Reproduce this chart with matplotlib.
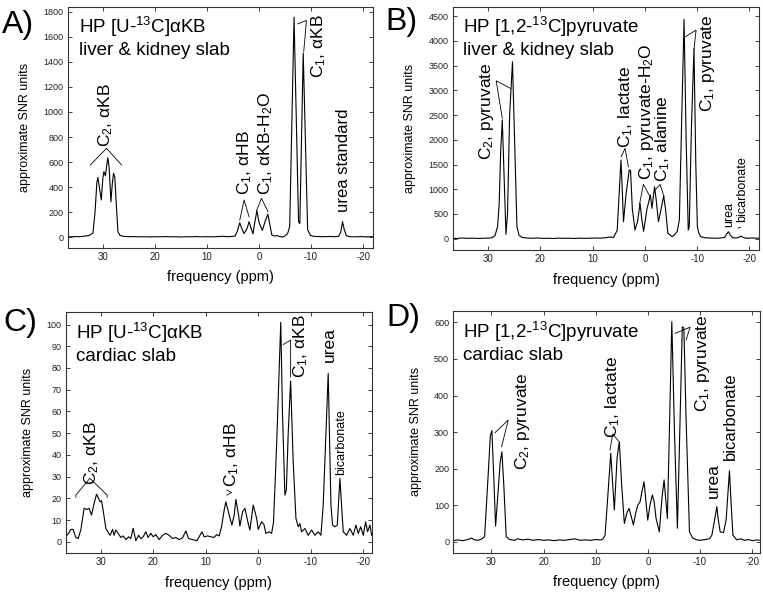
import matplotlib
matplotlib.use("Agg")
import matplotlib.pyplot as plt

plt.rcParams['font.family'] = ['Liberation Sans', 'DejaVu Sans']
plt.rcParams['axes.unicode_minus'] = False
plt.rcParams['mathtext.fontset'] = 'custom'
plt.rcParams['mathtext.rm'] = 'Liberation Sans'
plt.rcParams['mathtext.it'] = 'Liberation Sans:italic'
plt.rcParams['mathtext.default'] = 'regular'

# --- spectra (ppm, approximate SNR) ---
# A) HP [U-13C]aKB, liver & kidney slab
a_ppm = [36.7, 36.0, 35.2, 34.5, 33.8, 33.0, 32.5, 31.9, 31.5, 31.15, 30.95, 30.6, 30.3, 30.0,
         29.8, 29.5, 29.3, 29.05, 28.8, 28.45, 28.2, 27.95, 27.7, 27.4, 27.1, 26.7, 26.0, 25.0,
         24.0, 23.0, 22.0, 21.0, 20.0, 19.0, 18.0, 17.0, 16.0, 15.0, 14.0, 13.0, 12.0, 11.0,
         10.0, 9.0, 8.0, 7.0, 6.0, 5.3, 4.6, 4.2, 3.7, 3.3, 2.85, 2.3, 1.9, 1.5, 1.15, 0.8, 0.4,
         0.0, -0.65, -1.2, -1.7, -2.1, -2.45, -3.0, -3.5, -4.0, -4.6, -5.0, -5.5, -5.9, -6.74,
         -7.6, -7.85, -8.5, -9.35, -9.9, -10.5, -11.5, -12.5, -13.5, -14.5, -15.3, -15.7, -16.05,
         -16.4, -16.8, -17.5, -18.5, -19.5, -20.5, -21.9]
a_snr = [5, 4, 6, 5, 8, 12, 18, 35, 200, 440, 478, 380, 298, 470,
         524, 490, 560, 635, 560, 284, 420, 511, 480, 250, 45, 15, 8, 5,
         6, 4, 5, 3, 5, 4, 6, 4, 5, 3, 5, 4, 6, 4,
         5, 4, 6, 8, 5, 7, 10, 45, 116, 70, 30, 70, 125, 70, 28, 120, 212,
         120, 55, 130, 185, 100, 20, 10, 14, 6, 2, 12, 30, 85, 1756,
         125, 110, 1470, 60, 15, 8, 6, 5, 7, 5, 8, 40, 125,
         60, 12, 5, 4, 6, 4, 5]

# B) HP [1,2-13C]pyruvate, liver & kidney slab
b_ppm = [36.8, 36.0, 35.0, 34.0, 33.0, 32.0, 31.0, 30.0, 29.3, 28.7, 28.2, 27.9, 27.6, 27.3,
         27.0, 26.6, 26.3, 25.9, 25.35, 25.0, 24.5, 24.1, 23.5, 22.5, 21.5, 20.5, 19.5, 18.5,
         17.5, 16.5, 15.5, 14.5, 13.5, 12.5, 11.5, 10.5, 9.5, 8.5, 7.5, 6.8, 6.0, 5.3, 4.58,
         4.3, 4.1, 3.6, 3.0, 2.75, 2.4, 1.9, 1.4, 0.92, 0.6, 0.25, -0.4, -1.06, -1.35, -1.85,
         -2.15, -2.6, -3.0, -3.6, -3.95, -4.4, -4.8, -5.2, -5.6, -6.2, -6.6, -7.0, -7.5, -7.9,
         -8.3, -8.5, -8.9, -9.4, -9.75, -10.05, -10.3, -10.7, -11.5, -12.5, -13.5, -14.5,
         -15.3, -15.7, -16.0, -16.3, -16.8, -17.5, -18.0, -18.4, -18.8, -19.5, -20.5, -21.9]
b_snr = [10, 5, 15, 8, 12, 6, 10, 12, 20, 60, 250, 700, 1800, 2400,
         1400, 90, 500, 2500, 3575, 2200, 250, 70, 25, 15, 10, 15, 8, 10,
         5, 12, 8, 10, 6, 12, 8, 10, 15, 12, 20, 35, 25, 170, 1590,
         900, 343, 900, 1390, 1380, 600, 176, 350, 715, 400, 150, 600, 883, 614, 1050,
         800, 343, 550, 862, 600, 109, 80, 40, 70, 150, 380, 2200, 4432, 2000,
         176, 250, 2200, 3846, 1500, 250, 120, 40, 20, 15, 10, 15,
         30, 100, 141, 80, 20, 15, 30, 55, 25, 10, 15, 10]

# C) HP [U-13C]aKB, cardiac slab
c_ppm = [36.68, 36.16, 35.72, 35.28, 34.77, 34.33, 33.82, 33.19, 32.67, 32.23, 31.78, 31.28,
         30.82, 30.52, 30.14, 29.87, 29.57, 29.05, 28.54, 28.23, 27.77, 27.47, 27.14, 26.71,
         26.19, 25.75, 25.24, 24.72, 24.29, 23.85, 23.33, 22.82, 22.38, 21.94, 21.43, 20.99,
         20.47, 20.03, 19.52, 18.89, 18.24, 17.61, 16.98, 16.34, 15.71, 15.08, 14.43, 13.8,
         13.29, 12.52, 11.7, 11.27, 10.75, 10.31, 9.66, 9.04, 8.41, 7.95, 7.45, 7.0, 6.5,
         6.18, 5.55, 5.03, 4.59, 4.27, 3.76, 3.51, 3.0, 2.55, 1.93, 1.6, 0.97, 0.32, 0.02,
         -0.63, -1.07, -1.45, -2.08, -2.54, -2.9, -3.5, -4.28, -4.6, -5.07, -5.35, -5.7,
         -6.16, -6.65, -7.17, -7.6, -7.93, -8.25, -8.88, -9.51, -10.16, -10.79, -11.42,
         -11.93, -12.37, -13.32, -13.84, -14.16, -14.6, -15.05, -15.55, -15.94, -16.19,
         -16.83, -17.46, -18.09, -18.6, -19.04, -19.5, -20.0, -20.45, -20.83, -21.27, -21.6]
c_snr = [2.3, 3.9, 5.7, 5.7, 2.0, 1.5, 5.4, 15.4, 14.9, 15.4, 12.3, 17.7,
         21.9, 20.4, 18.4, 18.9, 14.6, 6.2, 4.1, 3.0, 5.7, 3.0, 5.4, 3.9,
         2.0, 2.7, 1.0, 2.3, 1.5, 6.2, 0.5, 3.0, 1.5, 2.3, 4.6, 2.0,
         3.9, 2.3, 3.3, 1.0, 3.0, 3.9, 3.0, 1.5, 2.0, 1.0, 1.8, 5.0,
         1.5, 1.0, 0.5, 2.3, 4.6, 2.3, 2.7, 2.3, 2.0, 3.3, 2.7, 7.0, 14.6,
         18.4, 12.3, 7.7, 12.3, 19.5, 12.3, 7.2, 13.8, 15.4, 8.5, 5.4, 16.9, 10.8, 5.7,
         9.2, 8.0, 3.9, 4.6, 3.9, 9.0, 45.0, 101.0, 60.0, 21.5, 24.0, 50.0,
         74.0, 36.8, 10.8, 6.9, 8.4, 4.6, 6.1, 3.0, 5.4, 3.0, 4.6,
         3.0, 16.9, 77.5, 16.9, 7.7, 6.9, 7.7, 29.2, 13.8, 4.6,
         3.0, 6.1, 3.0, 7.7, 3.8, 6.9, 3.0, 9.2, 4.6, 7.7, 3.0]

# D) HP [1,2-13C]pyruvate, cardiac slab
d_ppm = [37.3, 36.5, 35.5, 34.5, 33.8, 33.2, 32.5, 31.8, 31.3, 30.67, 30.2, 29.9, 29.55, 29.19,
         28.8, 28.3, 27.98, 27.6, 27.16, 26.5, 25.5, 25.0, 24.0, 23.0, 22.0, 21.0, 20.0, 19.0,
         18.0, 17.0, 16.0, 15.0, 14.0, 13.0, 12.0, 11.0, 10.0, 9.0, 8.6, 8.21, 7.7, 7.12, 6.43,
         5.9, 5.47, 5.0, 4.51, 4.0, 3.61, 3.2, 2.78, 2.3, 1.94, 1.5, 1.1, 0.73, 0.3, 0.02,
         -0.4, -0.86, -1.2, -1.57, -2.2, -2.7, -3.11, -3.4, -3.74, -4.2, -4.59, -5.1, -5.66,
         -6.2, -6.6, -6.9, -7.3, -7.97, -8.6, -9.39, -10.0, -11.0, -11.8, -12.27, -12.8, -13.22,
         -13.5, -13.86, -14.5, -15.0, -15.64, -15.9, -16.3, -17.06, -17.8, -18.5, -19.3, -20.0,
         -21.0, -21.5]
d_snr = [3, 5, 3, 6, 10, 5, 4, 8, 14, 169, 290, 304, 180, 43,
         120, 220, 246, 150, 14, 6, 4, 8, 5, 7, 4, 6, 4, 5,
         3, 5, 4, 6, 8, 4, 5, 4, 6, 5, 8, 18, 120, 242, 87,
         230, 274, 150, 50, 80, 91, 70, 46, 80, 100, 109, 140, 164, 100, 59,
         100, 128, 110, 64, 27, 120, 169, 120, 64, 350, 602, 300, 37,
         350, 588, 585, 350, 27, 10, 5, 4, 6, 8, 18, 60, 96,
         60, 27, 25, 60, 194, 120, 18, 5, 8, 4, 6, 3,
         5, 4]

x_ticks = [30, 20, 10, 0, -10, -20]


def panel(rect, ppm, snr, xlim, ylim, yticks):
    ax = fig.add_axes(rect)
    ax.plot(ppm, snr, color='black', lw=0.8)
    ax.set_xlim(*xlim)
    ax.set_ylim(*ylim)
    ax.set_xticks(x_ticks)
    ax.set_yticks(yticks)
    ax.tick_params(direction='in', top=True, right=True, length=3, width=0.6,
                   colors='#222222', pad=3)
    ax.tick_params(axis='x', labelsize=7)
    ax.tick_params(axis='y', labelsize=6.5)
    for s in ax.spines.values():
        s.set_linewidth(0.8)
        s.set_color('#333333')
    ax.set_xlabel('frequency (ppm)', fontsize=10.5, labelpad=6)
    ax.set_ylabel('approximate SNR units', fontsize=9, labelpad=9)
    return ax


def label(ax, x, y, txt, fs=12.5):
    ax.text(x, y, txt, rotation=90, ha='center', va='bottom', fontsize=fs)


def leader(ax, xs, ys):
    ax.plot(xs, ys, color='black', lw=0.6, clip_on=False)


def title(ax, x, y1, y2, line1, line2):
    ax.text(x, y1, line1, transform=ax.transAxes, fontsize=13.5, va='baseline')
    ax.text(x, y2, line2, transform=ax.transAxes, fontsize=13.5, va='baseline')


fig = plt.figure(figsize=(7.63, 5.94), dpi=100)

# A
ax = panel([0.0891, 0.5825, 0.3997, 0.4057], a_ppm, a_snr, (36.7, -21.9), (-85, 1837),
           range(0, 1801, 200))
title(ax, 0.036, 0.891, 0.801, 'HP [U-$^{13}$C]αKB', 'liver & kidney slab')
label(ax, 29.4, 720, 'C$_2$, αKB')
leader(ax, [32.4, 29.3, 26.4], [577, 710, 577])
label(ax, 2.7, 337, 'C$_1$, αHB')
leader(ax, [3.69, 2.86, 1.9], [138, 298, 164])
label(ax, -1.3, 337, 'C$_1$, αKB-H$_2$O')
leader(ax, [0.48, -0.48, -1.75], [212, 311, 204])
label(ax, -11.4, 1271, 'C$_1$, αKB')
leader(ax, [-7.4, -9.12, -8.6], [1702, 1729, 1481])
label(ax, -16.3, 204, 'urea standard', fs=12)

# B
ax = panel([0.5933, 0.5791, 0.4018, 0.4096], b_ppm, b_snr, (36.8, -21.9), (-228, 4689),
           range(0, 4501, 500))
title(ax, 0.035, 0.891, 0.801, 'HP [1,2-$^{13}$C]pyruvate', 'liver & kidney slab')
label(ax, 30.4, 1590, 'C$_2$, pyruvate')
leader(ax, [27.3, 28.47, 25.73], [2432, 3192, 3038])
label(ax, 3.7, 1830, 'C$_1$, lactate')
leader(ax, [4.55, 3.79, 3.16], [1657, 1826, 1454])
label(ax, -0.24, 1186, 'C$_1$, pyruvate-H$_2$O')
leader(ax, [1.05, 0.29, -1.0], [681, 1099, 848])
label(ax, -3.48, 1151, 'C$_1$, alanine')
leader(ax, [-1.95, -2.91, -3.67], [984, 1099, 848])
label(ax, -11.9, 2565, 'C$_1$, pyruvate')
leader(ax, [-7.69, -9.8, -9.41], [4080, 4216, 3826])
label(ax, -16.1, 242, 'urea', fs=9)
label(ax, -18.6, 337, 'bicarbonate', fs=9)
leader(ax, [-17.85, -18.35], [215, 228])

# C
ax = panel([0.0861, 0.0685, 0.4010, 0.4064], c_ppm, c_snr, (36.7, -21.6), (-5.3, 105.8),
           range(0, 101, 10))
title(ax, 0.034, 0.886, 0.797, 'HP [U-$^{13}$C]αKB', 'cardiac slab')
label(ax, 31.8, 26.1, 'C$_2$, αKB')
leader(ax, [34.77, 34.77, 32.1, 28.8, 28.8], [20.5, 21.5, 29.2, 21.5, 20.5])
label(ax, 5.09, 25.3, 'C$_1$, αHB')
leader(ax, [5.99, 5.09, 5.99], [23.8, 22.7, 21.5])
label(ax, -8.02, 75.2, 'C$_1$, αKB')
leader(ax, [-4.75, -6.16, -6.16], [90.8, 92.8, 75.9])
label(ax, -13.55, 82.8, 'urea')
label(ax, -15.75, 30.7, 'bicarbonate', fs=9)

# D
ax = panel([0.5941, 0.0695, 0.4020, 0.4074], d_ppm, d_snr, (37.3, -21.5), (-30, 632),
           range(0, 601, 100))
title(ax, 0.033, 0.886, 0.796, 'HP [1,2-$^{13}$C]pyruvate', 'cardiac slab')
label(ax, 24.1, 196, 'C$_2$, pyruvate')
leader(ax, [29.33, 26.77, 28.04], [298, 333, 260])
label(ax, 6.68, 283, 'C$_1$, lactate')
leader(ax, [7.26, 6.74, 5.66], [251, 295, 276])
label(ax, -10.5, 356, 'C$_1$, pyruvate')
leader(ax, [-5.22, -8.1, -7.33], [570, 587, 552])
label(ax, -12.5, 119, 'urea')
label(ax, -15.8, 224, 'bicarbonate', fs=12)

# panel letters
for x, y, s in [(0.002, 0.944, 'A)'), (0.505, 0.950, 'B)'),
                (0.004, 0.443, 'C)'), (0.507, 0.452, 'D)')]:
    fig.text(x, y, s, fontsize=23, va='baseline')

fig.savefig('out.png', dpi=100)
